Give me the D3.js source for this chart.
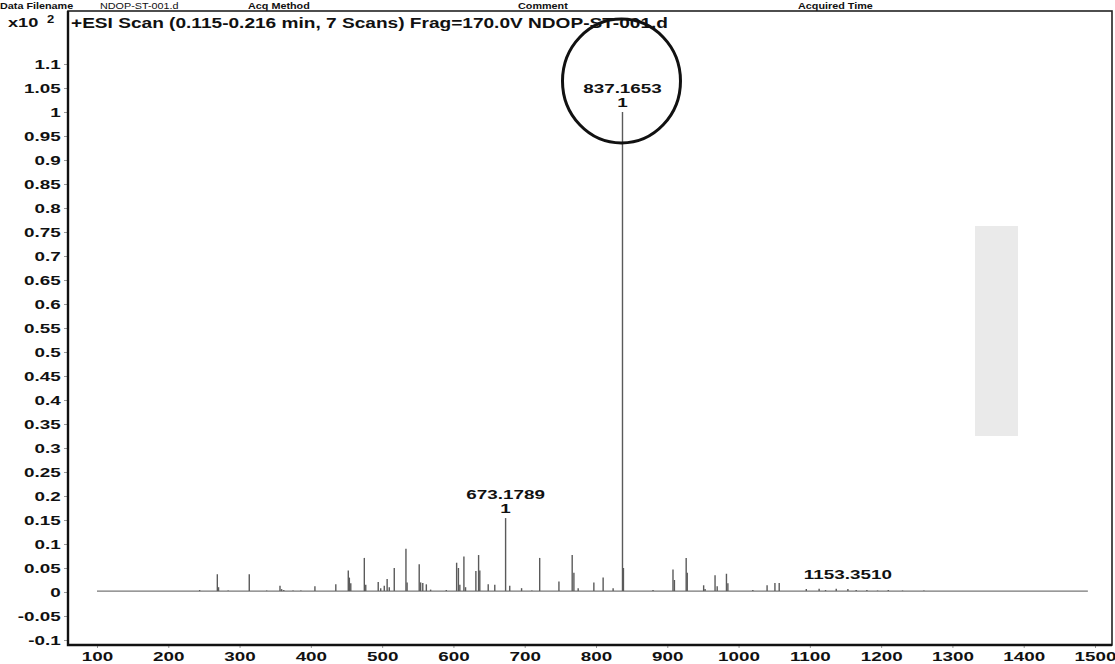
<!DOCTYPE html>
<html>
<head>
<meta charset="utf-8">
<script src="https://cdn.jsdelivr.net/npm/d3@7"></script>
<style>
  body { margin: 0; background: #fff; }
  svg { display: block; }
  text { font-family: "Liberation Sans", Arial, sans-serif; font-weight: bold; fill: #111; }
</style>
</head>
<body>
<svg id="chart" width="1115" height="664"></svg>
<script>
"use strict";

// m/z values and abundances (x10^2 counts)
const peakMz = [244, 268.8, 270.5, 284, 313.6, 338, 356.7, 359, 362, 375, 386, 405.7, 435,
  452.5, 454, 456, 475, 477, 494.5, 498, 503, 507, 510, 517, 533.4, 535, 552, 554, 557, 562,
  568, 590, 604.5, 607, 609, 614.7, 617, 631.5, 635.3, 637, 648.8, 658, 673.1789, 679, 695.6,
  710, 721, 748, 766.6, 769, 775, 797, 810, 824, 837.1653, 838.5, 880, 908, 910, 926.5, 928,
  951, 953, 967, 970, 983, 985, 1020, 1040, 1051, 1057, 1095, 1113, 1122, 1137, 1153.351,
  1165, 1180, 1195, 1210, 1230, 1260];
const peakAbund = [0.004, 0.037, 0.010, 0.003, 0.037, 0.003, 0.013, 0.006, 0.004, 0.003, 0.003, 0.012, 0.016,
  0.045, 0.030, 0.018, 0.071, 0.015, 0.021, 0.008, 0.013, 0.027, 0.010, 0.050, 0.090, 0.020, 0.058, 0.020, 0.019, 0.016,
  0.005, 0.004, 0.061, 0.050, 0.015, 0.074, 0.010, 0.044, 0.077, 0.045, 0.016, 0.015, 0.154, 0.013, 0.008,
  0.003, 0.071, 0.022, 0.077, 0.040, 0.008, 0.020, 0.030, 0.008, 1.0, 0.050, 0.004, 0.047, 0.025, 0.071, 0.040,
  0.014, 0.006, 0.035, 0.012, 0.038, 0.018, 0.004, 0.014, 0.019, 0.019, 0.006, 0.007, 0.004, 0.007, 0.006,
  0.004, 0.004, 0.003, 0.004, 0.003, 0.003];

const baselineRange = [100, 1490];
const baselineLevel = 0.002;

const labelMz = [837.1653, 673.1789, 1153.351];
const labelText = ["837.1653", "673.1789", "1153.3510"];
const labelCharge = ["1", "1", ""];

const xTicks = [100, 200, 300, 400, 500, 600, 700, 800, 900, 1000, 1100, 1200, 1300, 1400, 1500];
const yTicks = [-0.1, -0.05, 0, 0.05, 0.1, 0.15, 0.2, 0.25, 0.3, 0.35, 0.4, 0.45, 0.5, 0.55,
  0.6, 0.65, 0.7, 0.75, 0.8, 0.85, 0.9, 0.95, 1, 1.05, 1.1];

const titleText = "+ESI Scan (0.115-0.216 min, 7 Scans) Frag=170.0V NDOP-ST-001.d";
const headerLabels = ["Data Filename", "NDOP-ST-001.d", "Acq Method", "Comment", "Acquired Time"];

// layout
const frame = {left: 68, right: 1112, top: 11, bottom: 645};
const sx = 1.45; // the printout uses a wide bold face

const svg = d3.select("#chart");

const x = d3.scaleLinear().domain([100, 1500]).range([97, 1095]);
const y = d3.scaleLinear().domain([0, 1]).range([592, 112]);

// header row along the top edge of the scan
const headerX = [0, 100, 248, 518, 798];
svg.selectAll("text.header")
    .data(headerLabels)
    .enter()
    .append("text")
    .attr("class", "header")
    .attr("transform", (d, i) => `translate(${headerX[i]},9) scale(1.2,1)`)
    .attr("font-size", 9)
    .attr("fill", "#444")
    .style("font-weight", (d, i) => i === 1 ? "normal" : "bold")
    .text(d => d);

// scan smudge on the right
svg.append("rect")
    .attr("x", 975).attr("y", 226)
    .attr("width", 43).attr("height", 210)
    .attr("fill", "#d9d9d9")
    .attr("opacity", 0.55);

// axes
const yAxis = svg.append("g")
    .attr("transform", `translate(${frame.left},0)`)
    .call(d3.axisLeft(y).tickValues(yTicks).tickSize(4).tickFormat(d => String(d)));
yAxis.select(".domain").remove();
yAxis.selectAll(".tick line").attr("stroke", "#999");
yAxis.selectAll(".tick text")
    .attr("x", -5)
    .attr("transform", `scale(${sx},1)`)
    .attr("font-size", 13)
    .attr("font-family", null)
    .attr("fill", "#111");

const xAxis = svg.append("g")
    .attr("transform", `translate(0,${frame.bottom})`)
    .call(d3.axisBottom(x).tickValues(xTicks).tickSize(3).tickPadding(4).tickFormat(d => String(d)));
xAxis.select(".domain").remove();
xAxis.selectAll(".tick line").attr("stroke", "#999");
xAxis.selectAll(".tick text")
    .attr("transform", `scale(${sx},1)`)
    .attr("font-size", 13)
    .attr("font-family", null)
    .attr("fill", "#111");

// baseline
const line = d3.line().x(d => x(d[0])).y(d => y(d[1]));
svg.append("path")
    .datum(baselineRange.map(m => [m, baselineLevel]))
    .attr("d", line)
    .attr("stroke", "#777")
    .attr("stroke-width", 1.2)
    .attr("fill", "none");

// peaks
svg.selectAll("line.peak")
    .data(d3.zip(peakMz, peakAbund))
    .enter()
    .append("line")
    .attr("class", "peak")
    .attr("x1", d => x(d[0]))
    .attr("x2", d => x(d[0]))
    .attr("y1", y(baselineLevel))
    .attr("y2", d => y(d[1]))
    .attr("stroke", "#5a5a5a")
    .attr("stroke-width", 1.4);

// peak labels
const peakTop = m => y(peakAbund[peakMz.findIndex(v => Math.abs(v - m) < 0.01)]);
labelMz.forEach((m, i) => {
    const top = peakTop(m);
    const hasCharge = labelCharge[i] !== "";
    svg.append("text")
        .attr("transform", `translate(${x(m)},${hasCharge ? top - 19 : top - 10}) scale(${sx},1)`)
        .attr("text-anchor", "middle")
        .attr("font-size", 13)
        .text(labelText[i]);
    if (hasCharge) {
        svg.append("text")
            .attr("transform", `translate(${x(m)},${top - 5}) scale(${sx},1)`)
            .attr("text-anchor", "middle")
            .attr("font-size", 13)
            .text(labelCharge[i]);
    }
});

// hand-drawn circle round the base peak
svg.append("ellipse")
    .attr("cx", x(labelMz[0]) - 1)
    .attr("cy", y(1) - 31)
    .attr("rx", 59)
    .attr("ry", 62)
    .attr("fill", "none")
    .attr("stroke", "#111")
    .attr("stroke-width", 3);

// frame
svg.append("rect")
    .attr("x", frame.left).attr("y", frame.top)
    .attr("width", frame.right - frame.left)
    .attr("height", frame.bottom - frame.top)
    .attr("fill", "none")
    .attr("stroke", "#222")
    .attr("stroke-width", 1.6);
svg.append("path")
    .attr("d", `M${frame.left},${frame.top}V${frame.bottom}H${frame.right}`)
    .attr("fill", "none")
    .attr("stroke", "#111")
    .attr("stroke-width", 2.4);

// title and exponent
svg.append("text")
    .attr("x", 71).attr("y", 28)
    .attr("font-size", 14)
    .attr("textLength", 597)
    .attr("lengthAdjust", "spacingAndGlyphs")
    .text(titleText);

svg.append("text")
    .attr("transform", "translate(8,27) scale(1.4,1)")
    .attr("font-size", 13)
    .text("x10");
svg.append("text")
    .attr("transform", "translate(47,23) scale(1.3,1)")
    .attr("font-size", 10)
    .text("2");
</script>
</body>
</html>
